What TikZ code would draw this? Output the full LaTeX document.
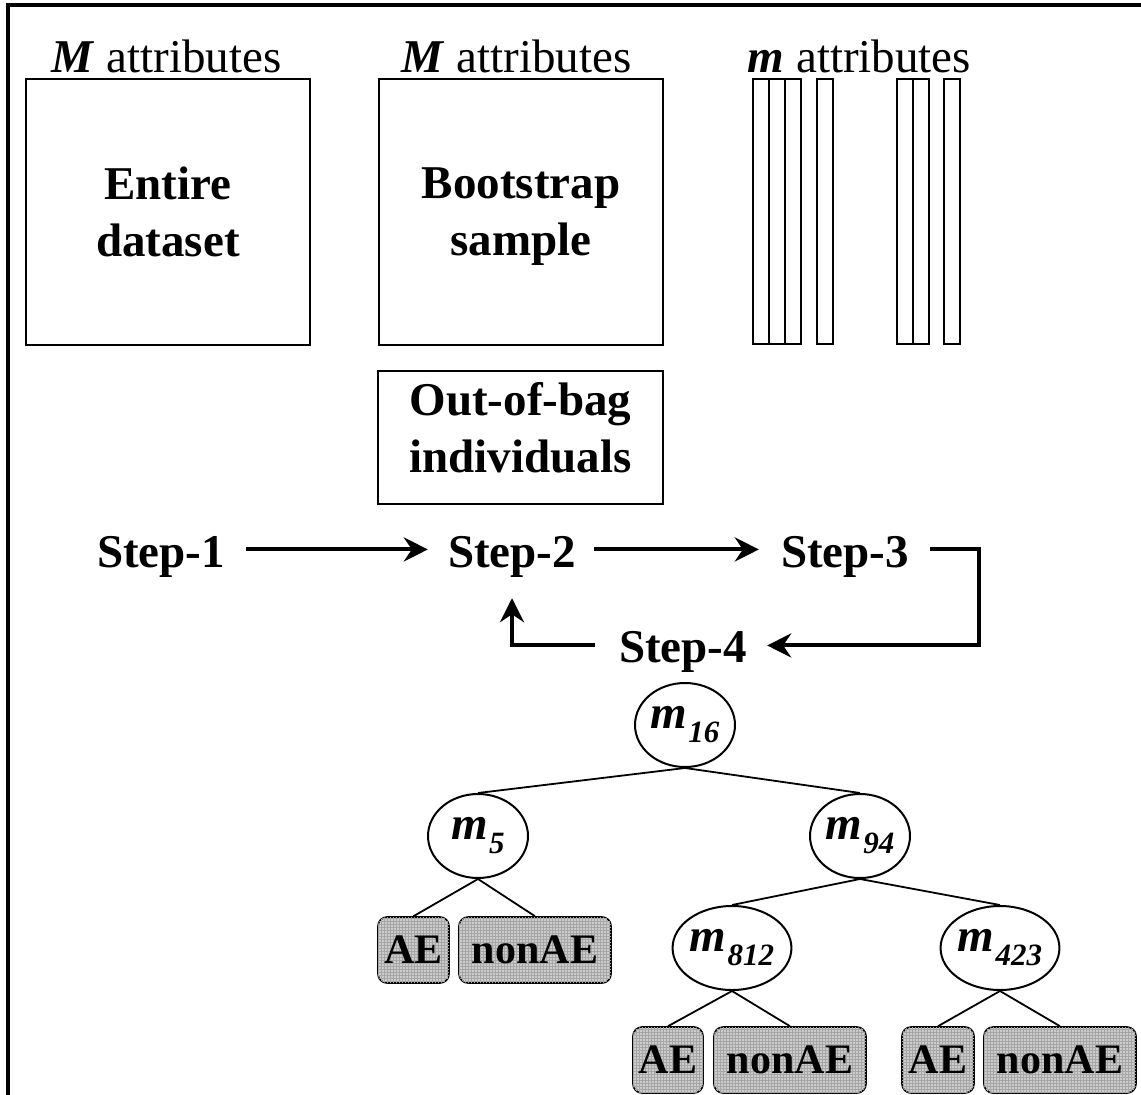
\documentclass[tikz,border=0pt]{standalone}
\usepackage{fontspec}
\setmainfont{Liberation Serif}
\usetikzlibrary{shapes.geometric,arrows.meta,patterns}
\newcommand{\attrsub}[1]{m\kern1pt\raisebox{-14pt}{\fontsize{31}{31}\selectfont #1}}
\begin{document}
\begin{tikzpicture}[x=1pt,y=-1pt,
  attrtext/.style={inner sep=0pt, anchor=base, font=\fontsize{47}{56}\selectfont},
  box/.style={draw, line width=2pt, inner sep=0pt, align=center, font=\fontsize{47}{57}\selectfont\bfseries},
  steplabel/.style={inner sep=0pt, anchor=base, font=\fontsize{47}{56}\selectfont\bfseries},
  flow/.style={line width=4pt, -{Stealth[length=24pt,width=24pt,inset=8pt]}},
  attr/.style={draw, line width=2pt, ellipse, minimum width=100pt, minimum height=84pt, inner sep=0pt, font=\fontsize{47}{56}\selectfont\bfseries\itshape},
  leaf/.style={draw, line width=1.6pt, rounded corners=9pt, fill=black!20, postaction={pattern=grid, pattern color=black!35}, inner sep=0pt, minimum height=66pt, font=\fontsize{42}{50}\selectfont\bfseries},
  edge/.style={line width=1.8pt},
  col/.style={line width=2pt}
]
\useasboundingbox (0,0) rectangle (1141,1095);
\fill[white] (0,0) rectangle (1141,1095);
% frame
\draw[line width=4pt] (8,1095) -- (8,5.3) -- (1141,5.3);

% attribute labels
\node[attrtext] (ma1) at (166.5,72) {\textbf{\textit{M}} attributes};
\node[attrtext] (ma2) at (516.5,72) {\textbf{\textit{M}} attributes};
\node[attrtext] (ma3) at (859.5,72) {\textbf{\textit{m}} attributes};

% boxes
\node[box, minimum width=284pt, minimum height=266pt] (entire) at (168,212) {Entire\\dataset};
\node[box, minimum width=284pt, minimum height=266pt] (boot) at (521,212) {Bootstrap\\\smash{sample}};
\node[box, minimum width=285pt, minimum height=133pt] (oob) at (520.5,437.5) {Out-of-bag\\individuals\rule[-20pt]{0pt}{20pt}};

% attribute columns
\foreach \cx in {753,769,785,817,897,913,944}
  \draw[col] (\cx,79) rectangle ++(16,265);

% steps
\node[steplabel] (s1) at (161,567) {Step-1};
\node[steplabel] (s2) at (512,567) {Step-2};
\node[steplabel] (s3) at (845,567) {Step-3};
\node[steplabel] (s4) at (683,662) {Step-4};

\draw[flow, shorten <=21pt, shorten >=20pt] ([yshift=7pt]s1.east) -- ([yshift=7pt]s2.west);
\draw[flow, shorten <=18pt, shorten >=22pt] ([yshift=7pt]s2.east) -- ([yshift=7pt]s3.west);
\draw[flow, shorten <=21pt, shorten >=20pt] ([yshift=7pt]s3.east) -- ++(70,0) |- ([yshift=6pt]s4.east);
\draw[flow, shorten <=24pt, shorten >=21pt] ([yshift=6pt]s4.west) -| (s2.south);

% tree
\node[attr] (m16) at (685,725) {\attrsub{16}};
\node[attr] (m5) at (478,836) {\attrsub{5}};
\node[attr] (m94) at (860,836) {\attrsub{94}};
\node[attr] (m812) at (732,948) {\attrsub{812}};
\node[attr] (m423) at (1000,948) {\attrsub{423}};

\node[leaf, minimum width=71pt] (ae1) at (413.5,950) {AE};
\node[leaf, minimum width=152pt] (na1) at (535,950) {nonAE};
\node[leaf, minimum width=70pt] (ae2) at (668,1060) {AE};
\node[leaf, minimum width=152pt] (na2) at (790,1060) {nonAE};
\node[leaf, minimum width=72pt] (ae3) at (938,1060) {AE};
\node[leaf, minimum width=152pt] (na3) at (1060,1060) {nonAE};

\draw[edge] (m16.south) -- (m5.north);
\draw[edge] (m16.south) -- (m94.north);
\draw[edge] (m94.south) -- (m812.north);
\draw[edge] (m94.south) -- (m423.north);
\draw[edge] (m5.south) -- (ae1.north);
\draw[edge] (m5.south) -- (na1.north);
\draw[edge] (m812.south) -- (ae2.north);
\draw[edge] (m812.south) -- (na2.north);
\draw[edge] (m423.south) -- (ae3.north);
\draw[edge] (m423.south) -- (na3.north);
\end{tikzpicture}
\end{document}
